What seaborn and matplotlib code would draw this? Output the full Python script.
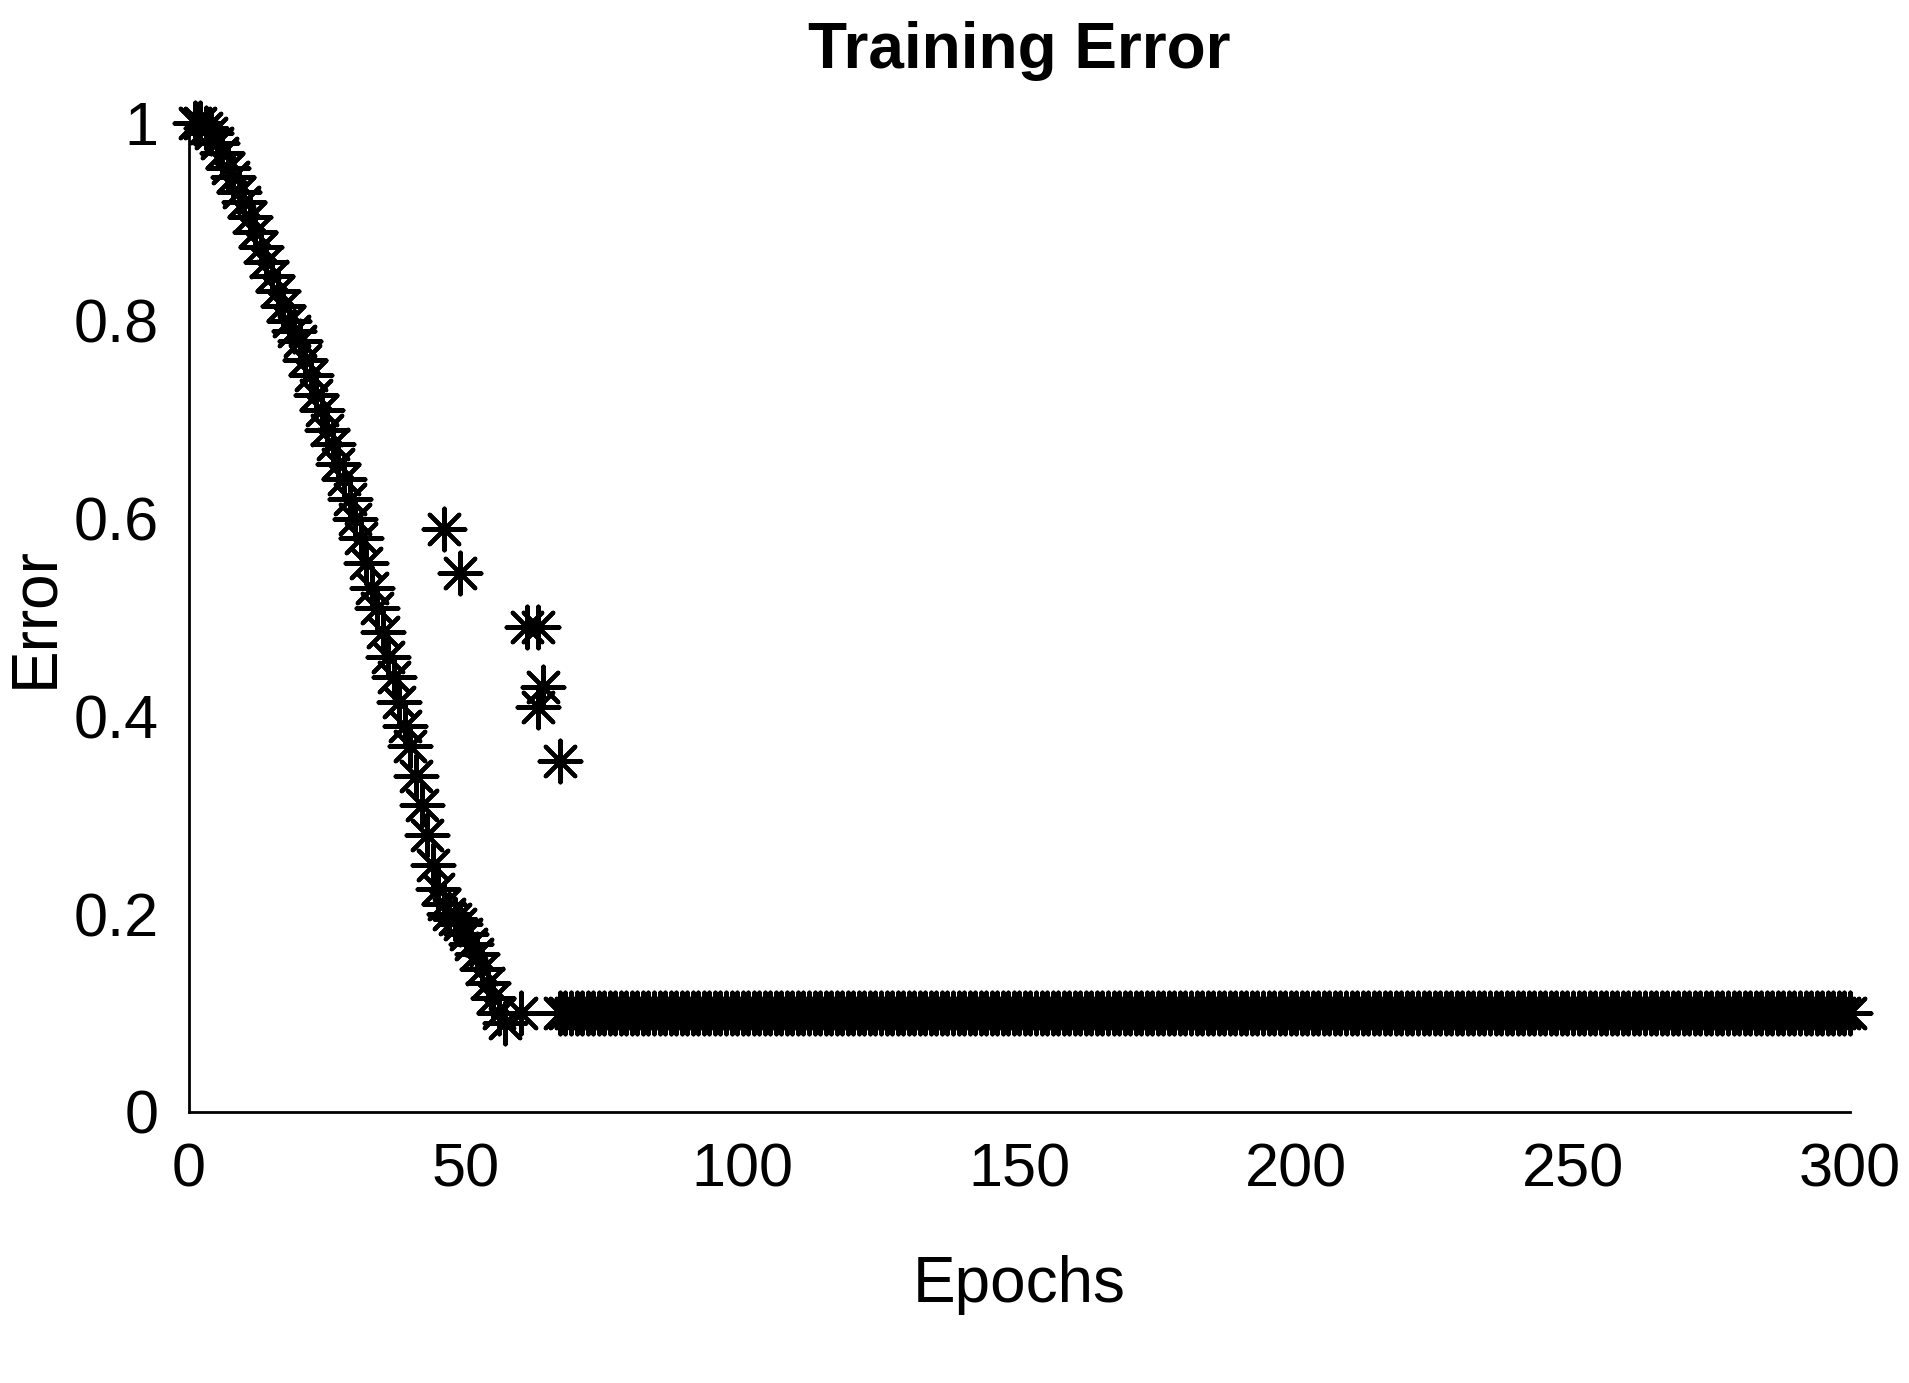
import matplotlib
matplotlib.use("Agg")
import matplotlib.pyplot as plt
import seaborn as sns
import pandas as pd

sns.set_style("white")
plt.rcParams['font.family'] = ['Liberation Sans', 'DejaVu Sans']
plt.rcParams['text.color'] = 'black'
plt.rcParams['axes.labelcolor'] = 'black'
plt.rcParams['xtick.color'] = 'black'
plt.rcParams['ytick.color'] = 'black'

curve_epochs = list(range(1, 58))
curve_errors = [1.0, 1.0, 0.995, 0.99, 0.98, 0.97, 0.955, 0.945, 0.93, 0.92,
                0.905, 0.89, 0.875, 0.86, 0.845, 0.83, 0.815, 0.80, 0.79, 0.78,
                0.76, 0.745, 0.725, 0.71, 0.69, 0.675, 0.655, 0.64, 0.62, 0.60,
                0.58, 0.555, 0.53, 0.51, 0.485, 0.46, 0.44, 0.415, 0.39, 0.37,
                0.34, 0.31, 0.28, 0.25, 0.225, 0.21, 0.20, 0.195, 0.19, 0.18,
                0.17, 0.16, 0.145, 0.13, 0.115, 0.10, 0.09]
extra_epochs = [60, 46, 49, 61, 63, 63, 64, 67]
extra_errors = [0.10, 0.59, 0.545, 0.49, 0.49, 0.41, 0.43, 0.355]
tail_epochs = list(range(67, 301))
tail_errors = [0.1] * len(tail_epochs)

df = pd.DataFrame({
    "Epochs": curve_epochs + extra_epochs + tail_epochs,
    "Error": curve_errors + extra_errors + tail_errors,
})

fig = plt.figure(figsize=(19.09, 13.83), dpi=100)
ax = fig.add_axes([0.099, 0.196, 0.87, 0.715])
sns.scatterplot(data=df, x="Epochs", y="Error", marker=(8, 2, 0), s=900,
                color="black", linewidth=3, ax=ax, clip_on=False)
for c in ax.collections:
    c.set_edgecolor("black")
ax.set_xlim(0, 300)
ax.set_ylim(0, 1)
ax.set_xticks([0, 50, 100, 150, 200, 250, 300])
ax.set_yticks([0, 0.2, 0.4, 0.6, 0.8, 1])
ax.set_yticklabels(["0", "0.2", "0.4", "0.6", "0.8", "1"])
ax.tick_params(labelsize=44, direction="in", length=8, pad=22)
for s in ["top", "right"]:
    ax.spines[s].set_visible(False)
for s in ["left", "bottom"]:
    ax.spines[s].set_color("black"); ax.spines[s].set_linewidth(2)
ax.set_xlabel("Epochs", fontsize=46, labelpad=40)
ax.set_ylabel("Error", fontsize=46, labelpad=6)
ax.set_title("Training Error", fontsize=46, fontweight="bold", pad=40)
fig.savefig("out.png", dpi=100)
